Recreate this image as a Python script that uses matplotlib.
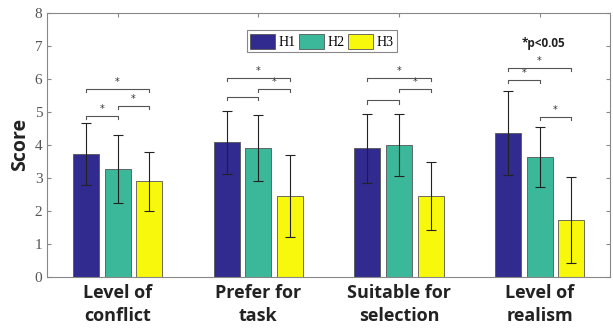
import matplotlib.pyplot as plt
import numpy as np

# data
categories = ['Level of\nconflict', 'Prefer for\ntask', 'Suitable for\nselection', 'Level of\nrealism']
series = ['H1', 'H2', 'H3']
h1 = [3.72, 4.08, 3.90, 4.36]
h2 = [3.27, 3.92, 4.00, 3.63]
h3 = [2.90, 2.45, 2.45, 1.72]
h1_err = [0.93, 0.95, 1.05, 1.27]
h2_err = [1.02, 1.00, 0.95, 0.92]
h3_err = [0.90, 1.23, 1.03, 1.30]
# significance brackets: (group, from series, to series, height, star)
brackets = [
    (0, 0, 1, 4.88, True), (0, 1, 2, 5.18, True), (0, 0, 2, 5.70, True),
    (1, 0, 1, 5.45, False), (1, 1, 2, 5.70, True), (1, 0, 2, 6.03, True),
    (2, 0, 1, 5.35, False), (2, 1, 2, 5.70, True), (2, 0, 2, 6.03, True),
    (3, 1, 2, 4.85, True), (3, 0, 1, 5.97, True), (3, 0, 2, 6.33, True),
]

colors = ['#312a8f', '#3bb79a', '#f8f80c']
values = [h1, h2, h3]
errors = [h1_err, h2_err, h3_err]

fig = plt.figure(figsize=(6.13, 3.32), dpi=100)
ax = fig.add_axes([0.077, 0.166, 0.918, 0.795])

x = np.arange(1, len(categories) + 1)
offsets = [-0.225, 0.0, 0.225]
width = 0.185
for vals, errs, col, off, name in zip(values, errors, colors, offsets, series):
    ax.bar(x + off, vals, width, color=col, edgecolor='#555555', linewidth=0.6, label=name, zorder=2)
    ax.errorbar(x + off, vals, yerr=errs, fmt='none', ecolor='#222222', elinewidth=0.8,
                capsize=3.5, capthick=0.8, zorder=3)

for g, a, b, h, star in brackets:
    xa = x[g] + offsets[a]
    xb = x[g] + offsets[b]
    ax.plot([xa, xa, xb, xb], [h - 0.1, h, h, h - 0.1], color='#555555', lw=0.8, zorder=3)
    if star:
        ax.text((xa + xb) / 2, h + 0.05, '*', ha='center', va='bottom', fontsize=7, color='#333333')

ax.text(4.03, 7.06, '*p<0.05', ha='center', va='center', fontsize=8.5, fontweight='bold',
        family='Open Sans', color='#222222')

ax.set_xlim(0.5, 4.5)
ax.set_ylim(0, 8)
ax.set_xticks(x)
ax.set_xticklabels(categories, fontsize=13, fontweight='bold', family='Open Sans', color='#222222',
                   linespacing=1.35)
ax.set_yticks(range(0, 9))
ax.set_yticklabels([str(v) for v in range(0, 9)], family='Liberation Serif', fontsize=11, color='#555555')
ax.tick_params(axis='both', direction='in', length=3, color='#888888', top=True, right=True,
               labelright=False, labeltop=False)
ax.tick_params(axis='x', pad=5)
ax.set_ylabel('Score', fontsize=14, fontweight='bold', family='Open Sans', color='#222222', labelpad=3)
for s in ax.spines.values():
    s.set_color('#888888')
    s.set_linewidth(0.8)

leg = ax.legend(loc='center', bbox_to_anchor=(0.488, 0.893), ncol=3, prop={'family': 'Liberation Serif', 'size': 10},
                handlelength=1.8, handleheight=1.3, handletextpad=0.2, columnspacing=0.3,
                borderpad=0.25, fancybox=False, edgecolor='#888888', framealpha=1)
leg.get_frame().set_linewidth(0.8)

fig.savefig('out.png', dpi=100)
